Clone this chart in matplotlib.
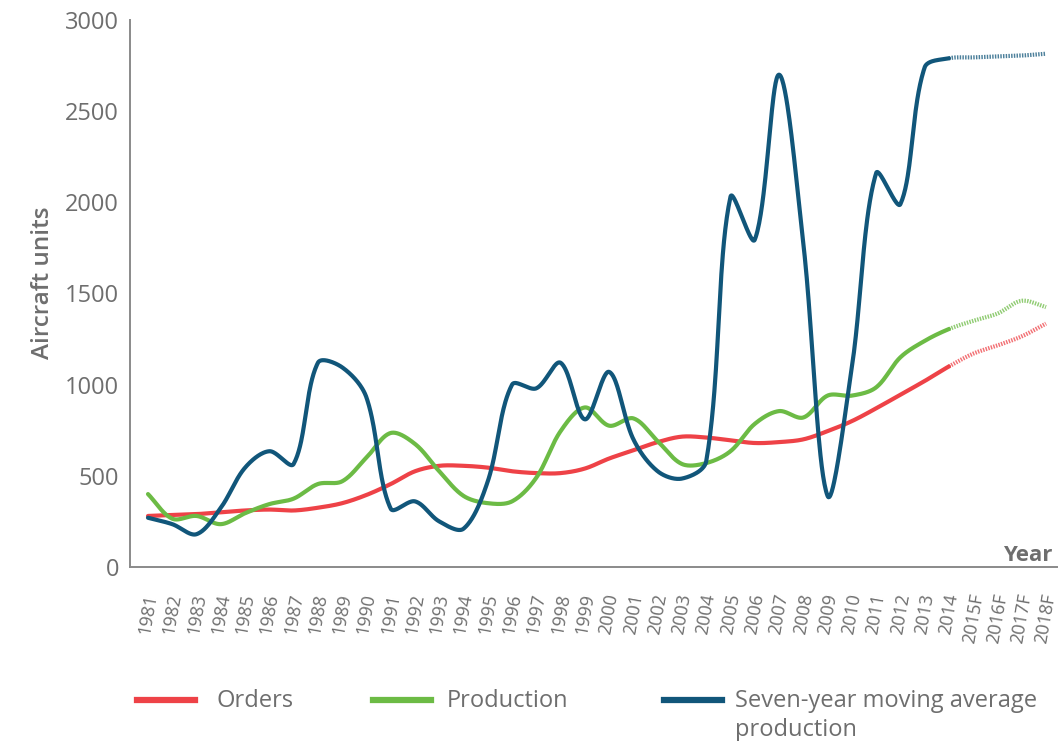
import numpy as np
import matplotlib
matplotlib.use('Agg')
import matplotlib.pyplot as plt
from matplotlib.lines import Line2D

# Data (aircraft units)
years = ['1981', '1982', '1983', '1984', '1985', '1986', '1987', '1988', '1989', '1990',
         '1991', '1992', '1993', '1994', '1995', '1996', '1997', '1998', '1999', '2000',
         '2001', '2002', '2003', '2004', '2005', '2006', '2007', '2008', '2009', '2010',
         '2011', '2012', '2013', '2014', '2015F', '2016F', '2017F', '2018F']

orders = [280, 285, 290, 300, 310, 315, 310, 325, 350, 395,
          455, 525, 555, 555, 545, 525, 515, 515, 540, 595,
          640, 685, 715, 710, 695, 680, 685, 700, 745, 800,
          870, 945, 1020, 1100, 1170, 1215, 1265, 1335]

production = [400, 265, 280, 235, 295, 345, 375, 455, 470, 600,
              735, 675, 525, 390, 350, 360, 490, 745, 875, 775,
              815, 690, 565, 570, 635, 785, 855, 820, 940, 940,
              985, 1150, 1240, 1305, 1350, 1390, 1460, 1425]

moving_avg = [270, 235, 180, 325, 545, 635, 565, 1120, 1095, 930,
              320, 360, 250, 210, 470, 1000, 980, 1120, 810, 1070,
              700, 525, 485, 580, 2030, 1795, 2700, 1775, 390, 1095,
              2160, 1990, 2740, 2790, 2795, 2800, 2805, 2815]

last_actual = '2014'

series = [
    ('Orders', orders, '#ee4247'),
    ('Production', production, '#6cbb45'),
    ('Seven-year moving average\nproduction', moving_avg, '#11567a'),
]

text_grey = '#6e6e6e'
font = 'Open Sans'

# pixel scale of the axes, used so the smoothing behaves like it does on screen
PX_X = 24.3      # pixels per year
PX_Y = 0.182     # pixels per aircraft unit


def smooth(values, n=40):
    # bezier smoothing with control points split in proportion to the
    # on-screen length of the neighbouring segments (office-chart style)
    P = np.column_stack([np.arange(len(values)) * PX_X, np.asarray(values, float) * PX_Y])
    m = len(P)
    before = P.copy()
    after = P.copy()
    for i in range(m):
        prev_p = P[i - 1] if i > 0 else P[i]
        next_p = P[i + 1] if i < m - 1 else P[i]
        d_prev = np.hypot(*(P[i] - prev_p))
        d_next = np.hypot(*(next_p - P[i]))
        tot = d_prev + d_next
        if tot == 0:
            continue
        T = next_p - prev_p
        before[i] = P[i] - T * d_prev / tot / 3
        after[i] = P[i] + T * d_next / tot / 3
    t = np.linspace(0, 1, n)[:, None]
    pts = []
    for i in range(m - 1):
        b0, b1, b2, b3 = P[i], after[i], before[i + 1], P[i + 1]
        seg = ((1 - t) ** 3) * b0 + 3 * ((1 - t) ** 2) * t * b1 + 3 * (1 - t) * t ** 2 * b2 + t ** 3 * b3
        pts.append(seg if i == 0 else seg[1:])
    pts = np.vstack(pts)
    return pts[:, 0] / PX_X, pts[:, 1] / PX_Y


fig = plt.figure(figsize=(10.59, 7.41), dpi=100)
x_first, x_last = 148, 1046
step = (x_last - x_first) / (len(years) - 1)
ax = fig.add_axes([130 / 1059, (741 - 567) / 741, (1057 - 130) / 1059, (567 - 20) / 741])

split = years.index(last_actual)
for label, vals, color in series:
    xs, ys = smooth(vals)
    solid = xs <= split
    fcast = xs >= split
    ax.plot(xs[solid], ys[solid], color=color, lw=3.0, solid_capstyle='round')
    ax.plot(xs[fcast], ys[fcast], color=color, lw=3.0, alpha=0.75,
            linestyle=(0, (0.35, 0.3)), dash_capstyle='butt')

ax.set_xlim(-(x_first - 130) / step, len(years) - 1 + (1057 - x_last) / step)
ax.set_ylim(0, 3000)
ax.set_yticks([0, 500, 1000, 1500, 2000, 2500, 3000])
ax.set_xticks(range(len(years)))
ax.set_xticklabels(years, rotation=80, ha='center', va='top',
                   fontsize=13, family=font, color=text_grey)
for lab in ax.get_yticklabels():
    lab.set_family(font)
    lab.set_fontsize(17)
    lab.set_color(text_grey)

ax.tick_params(axis='both', length=0)
ax.tick_params(axis='y', pad=8)
ax.tick_params(axis='x', pad=18)

for side in ['top', 'right']:
    ax.spines[side].set_visible(False)
for side in ['left', 'bottom']:
    ax.spines[side].set_color('#8a8a8a')
    ax.spines[side].set_linewidth(1.4)

ax.set_ylabel('Aircraft units', fontsize=17.5, family=font, fontweight='semibold',
              color=text_grey)
ax.yaxis.set_label_coords(-(130 - 55) / 927, 0.52)
ax.annotate('Year', xy=(1, 0), xycoords='axes fraction', xytext=(-5, 1),
            textcoords='offset pixels', ha='right', va='bottom',
            fontsize=16, family=font, fontweight='bold', color=text_grey)

# legend drawn by hand to match the spacing of the original
leg_y = (741 - 700) / 741
handles = [(137, 195, 217), (373, 431, 447), (664, 722, 735)]
for (x0, x1, xt), (label, vals, color) in zip(handles, series):
    fig.add_artist(Line2D([x0 / 1059, x1 / 1059], [leg_y, leg_y], color=color,
                          lw=4.5, transform=fig.transFigure))
    fig.text(xt / 1059, leg_y + 11 / 741, label, ha='left', va='top', fontsize=17,
             family=font, color=text_grey, linespacing=1.25)

fig.savefig('out.png', dpi=100)
